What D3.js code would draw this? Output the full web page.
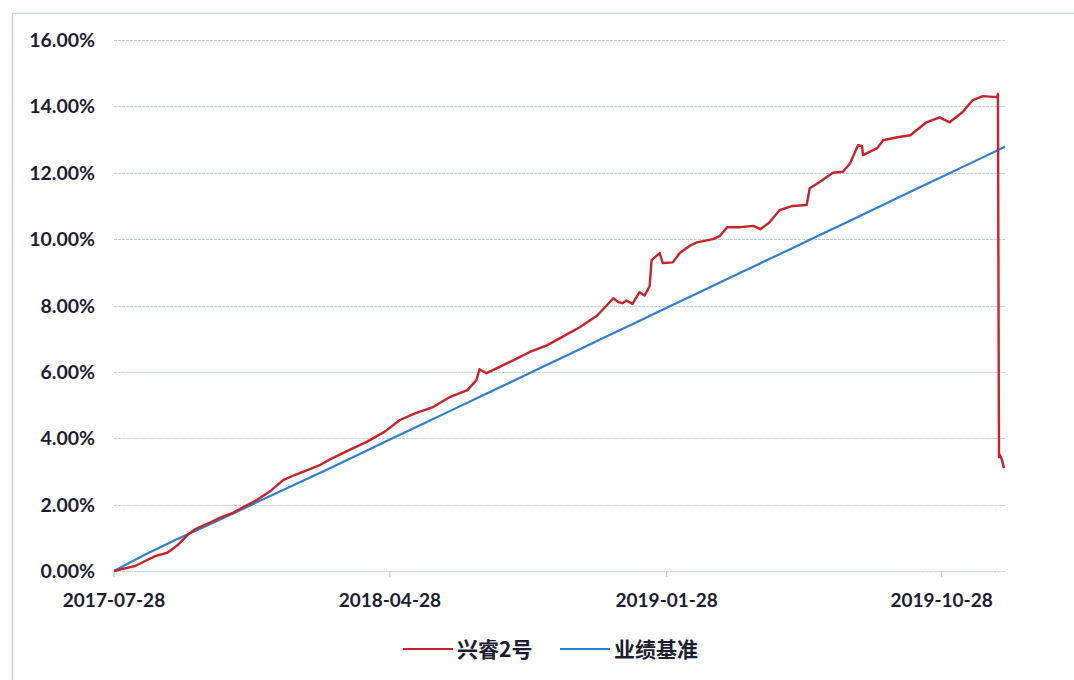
<!DOCTYPE html>
<html><head><meta charset="utf-8">
<script src="https://cdn.jsdelivr.net/npm/d3@7/dist/d3.min.js"></script>
<style>
html,body{margin:0;padding:0;background:#fff;}
svg{display:block;}
</style></head>
<body>
<svg id="chart" width="1074" height="680"></svg>
<script>
// ---- data ----
const fundName = "兴睿2号";
const benchName = "业绩基准";
const fundDates = ["2017-07-28","2017-08-08","2017-08-18","2017-08-28","2017-09-07","2017-09-19","2017-09-30","2017-10-09","2017-10-16","2017-10-21","2017-10-31","2017-11-10","2017-11-23","2017-12-05","2017-12-17","2017-12-30","2018-01-12","2018-01-24","2018-02-05","2018-02-18","2018-03-02","2018-03-19","2018-04-05","2018-04-23","2018-05-08","2018-05-23","2018-06-10","2018-06-27","2018-07-14","2018-07-23","2018-07-26","2018-08-02","2018-08-15","2018-09-01","2018-09-14","2018-10-01","2018-10-19","2018-11-03","2018-11-20","2018-12-06","2018-12-11","2018-12-15","2018-12-19","2018-12-25","2019-01-01","2019-01-06","2019-01-11","2019-01-13","2019-01-21","2019-01-24","2019-02-03","2019-02-10","2019-02-20","2019-02-27","2019-03-15","2019-03-22","2019-03-29","2019-04-11","2019-04-24","2019-05-01","2019-05-10","2019-05-20","2019-06-02","2019-06-16","2019-06-19","2019-06-29","2019-07-12","2019-07-22","2019-07-29","2019-08-06","2019-08-10","2019-08-11","2019-08-25","2019-08-31","2019-09-14","2019-09-27","2019-10-13","2019-10-26","2019-11-05","2019-11-18","2019-11-28","2019-12-08","2019-12-22","2019-12-23","2019-12-24","2019-12-25","2019-12-27","2019-12-29"];
const fundValues = [0.00,0.08,0.15,0.30,0.45,0.55,0.80,1.08,1.25,1.32,1.45,1.60,1.75,1.95,2.14,2.40,2.74,2.90,3.04,3.20,3.40,3.65,3.89,4.20,4.55,4.75,4.94,5.25,5.45,5.75,6.08,5.96,6.15,6.40,6.60,6.80,7.10,7.35,7.70,8.22,8.10,8.07,8.15,8.05,8.40,8.30,8.58,9.37,9.58,9.28,9.30,9.58,9.80,9.90,10.00,10.10,10.36,10.36,10.40,10.30,10.50,10.87,11.00,11.03,11.53,11.72,12.00,12.03,12.28,12.83,12.80,12.53,12.74,12.98,13.07,13.13,13.52,13.67,13.52,13.83,14.19,14.31,14.28,14.37,3.43,3.50,3.34,3.10];
const benchDates = ["2017-07-28","2017-08-28","2017-09-28","2017-10-28","2017-11-28","2017-12-28","2018-01-28","2018-02-28","2018-03-28","2018-04-28","2018-05-28","2018-06-28","2018-07-28","2018-08-28","2018-09-28","2018-10-28","2018-11-28","2018-12-28","2019-01-28","2019-02-28","2019-03-28","2019-04-28","2019-05-28","2019-06-28","2019-07-28","2019-08-28","2019-09-28","2019-10-28","2019-11-28","2019-12-30"];
const benchValues = [0.00,0.50,0.95,1.36,1.80,2.23,2.67,3.10,3.51,3.96,4.39,4.84,5.27,5.72,6.17,6.60,7.05,7.48,7.93,8.38,8.78,9.23,9.66,10.11,10.54,10.99,11.44,11.87,12.32,12.78];
const yTicks = [0,2,4,6,8,10,12,14,16];
const xTickLabels = ["2017-07-28","2018-04-28","2019-01-28","2019-10-28"];

// ---- drawing ----
const parse = d3.timeParse("%Y-%m-%d");
const svg = d3.select("#chart");
const x = d3.scaleTime().domain([parse("2017-07-28"), parse("2019-12-30")]).range([114, 1005]);
const y = d3.scaleLinear().domain([0, 16]).range([571, 40]);

// outer frame
svg.append("line").attr("x1",12).attr("x2",1074).attr("y1",13.5).attr("y2",13.5).attr("stroke","#c9d0dc").attr("stroke-width",1.5);
svg.append("line").attr("x1",12.5).attr("x2",12.5).attr("y1",13).attr("y2",680).attr("stroke","#c9d0dc").attr("stroke-width",1.5);

// grid
svg.append("g").selectAll("line").data(yTicks).join("line")
  .attr("x1", x.range()[0]).attr("x2", x.range()[1])
  .attr("y1", d => Math.round(y(d)) + 0.5).attr("y2", d => Math.round(y(d)) + 0.5)
  .attr("stroke", "#c8cfdc").attr("stroke-width", 1.2).attr("stroke-dasharray","3,1");

// y labels
svg.append("g").selectAll("text").data(yTicks).join("text")
  .attr("x", 95).attr("y", d => y(d)).attr("dy", "0.36em")
  .attr("text-anchor", "end")
  .attr("font-family", "Lato, 'Open Sans', sans-serif").attr("font-weight", 700)
  .attr("font-size", 19.5).attr("fill", "#1c1c30")
  .text(d => d3.format(".2f")(d) + "%");

// x axis ticks + labels
const xg = svg.append("g");
xg.selectAll("line").data(xTickLabels).join("line")
  .attr("x1", d => x(parse(d))).attr("x2", d => x(parse(d)))
  .attr("y1", 571).attr("y2", 577).attr("stroke", "#b8bfcc").attr("stroke-width", 1);
xg.selectAll("text").data(xTickLabels).join("text")
  .attr("x", d => x(parse(d))).attr("y", 600).attr("dy", "0.36em")
  .attr("text-anchor", "middle")
  .attr("font-family", "Lato, 'Open Sans', sans-serif").attr("font-weight", 700)
  .attr("font-size", 19).attr("fill", "#1c1c30")
  .text(d => d);

const line = d3.line().x(d => x(d[0])).y(d => y(d[1]));
const benchData = benchDates.map((d, i) => [parse(d), benchValues[i]]);
const fundData = fundDates.map((d, i) => [parse(d), fundValues[i]]);

svg.append("path").datum(benchData).attr("d", line)
  .attr("fill", "none").attr("stroke", "#2f7fd2").attr("stroke-width", 2.2).attr("stroke-linejoin","round");
svg.append("path").datum(fundData).attr("d", line)
  .attr("fill", "none").attr("stroke", "#c8232b").attr("stroke-width", 2.4).attr("stroke-linejoin","round");

// legend
const legend = [[fundName, "#c8232b", 403], [benchName, "#2f7fd2", 560]];
const lg = svg.append("g").selectAll("g").data(legend).join("g");
lg.append("line").attr("x1", d => d[2]).attr("x2", d => d[2] + 50)
  .attr("y1", 649).attr("y2", 649).attr("stroke", d => d[1]).attr("stroke-width", 2.2);
lg.append("text").attr("x", d => d[2] + 54).attr("y", 649).attr("dy", "0.36em")
  .attr("font-family", "'Noto Sans CJK SC', sans-serif").attr("font-weight", 700)
  .attr("font-size", 21).attr("fill", "#1c1c30").text(d => d[0]);
</script>
</body></html>
